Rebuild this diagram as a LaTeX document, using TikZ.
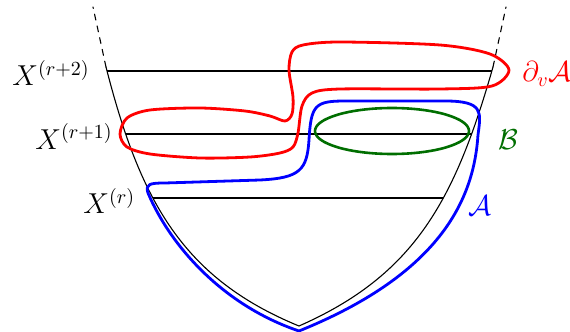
\documentclass[tikz,border=0pt]{standalone}
\usepackage{amsmath,amssymb}
\usepackage{tikz}
\usepackage{xcolor}

\definecolor{bgreen}{RGB}{0,110,0}

\begin{document}
\begin{tikzpicture}[x=0.5pt,y=-0.5pt,font=\Large,line cap=round,line join=round,
  cone/.style={black,line width=0.55pt},
  level/.style={black,line width=0.55pt},
  region/.style={line width=1.4pt},
  lbl/.style={anchor=base west,inner sep=0pt}]
\useasboundingbox (0,0) rectangle (570,332);
% the cone
\draw[cone] (106,67) .. controls (140,200) and (182,278) .. (299,326)
  .. controls (415,275) and (455,200) .. (493,67);
\draw[cone,dashed] (106,67) -- (93,7);
\draw[cone,dashed] (493,67) -- (506,7);
% levels
\begin{scope}
\clip (106,67) .. controls (140,200) and (182,278) .. (299,326)
  .. controls (415,275) and (455,200) .. (493,67) -- cycle;
\draw[level] (0,71) -- (570,71);
\draw[level] (0,134) -- (570,134);
\draw[level] (0,198) -- (570,198);
\end{scope}
% the sets
\draw[region,red] plot[smooth cycle,tension=0.5] coordinates {
  (303,45) (340,42) (440,45) (490,54) (509,70) (492,86) (440,89) (340,89)
  (312,93) (302,106) (298,133) (293,147) (280,153) (250,157) (200,158)
  (150,154) (127,147) (120,134) (127,118) (150,110) (200,108) (245,111)
  (270,116) (285,121) (292,114) (293,97) (289,70) (292,52)};
\draw[region,blue] (299,331) .. controls (222,305) and (170,245) .. (148,193)
  .. controls (145,184) and (150,183) .. (165,183)
  -- (260,180) .. controls (300,178) and (307,170) .. (309,140)
  .. controls (311,105) and (315,101) .. (345,101)
  -- (445,101) .. controls (484,101) and (481,112) .. (478,135)
  .. controls (474,195) and (445,272) .. (299,331);
\draw[region,bgreen,line width=1.3pt] (392,131) ellipse [x radius=38.5pt,y radius=11.5pt];
% labels
\node[lbl] (xtwo) at (12,86) {$X^{(r+2)}$};
\node[lbl] (xone) at (35,149) {$X^{(r+1)}$};
\node[lbl] (xzero) at (83,214) {$X^{(r)}$};
\node[lbl,red] (dva) at (522,82) {$\partial_v\mathcal{A}$};
\node[lbl,bgreen] (setb) at (498,150) {$\mathcal{B}$};
\node[lbl,blue] (seta) at (468,216) {$\mathcal{A}$};
\end{tikzpicture}
\end{document}
